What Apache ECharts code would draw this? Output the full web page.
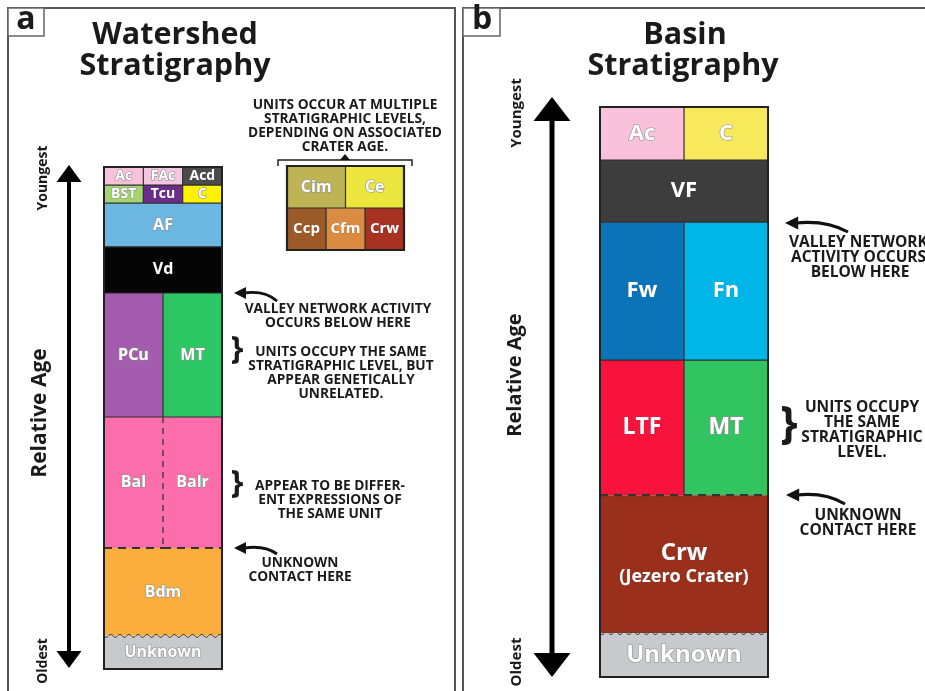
<!DOCTYPE html>
<html><head><meta charset="utf-8">
<script src="https://cdn.jsdelivr.net/npm/echarts@6/dist/echarts.min.js"></script>
<style>html,body{margin:0;padding:0;background:#fff}#c{width:925px;height:691px}</style>
</head><body><div id="c"></div>
<script>
// ---------- DATA ----------
// Relative age scale: 0 = oldest, 100 = youngest. Columns: fractions of the stratigraphic column.
// Panel a: Watershed stratigraphy
const watershedUnits     = ['Ac','FAc','Acd','BST','Tcu','C','AF','Vd','PCu','MT','Bal','Balr','Bdm','Unknown'];
const watershedColStart  = [0, 1, 2, 0, 1, 2, 0, 0, 0,   1.5, 0,   1.5, 0, 0];
const watershedColEnd    = [1, 2, 3, 1, 2, 3, 3, 3, 1.5, 3,   1.5, 3,   3, 3];
const watershedAgeBase   = [96.4,96.4,96.4,92.8,92.8,92.8,84.1,74.9,50.2,50.2,24.1,24.1,6.6,0];
const watershedAgeTop    = [100,100,100,96.4,96.4,96.4,92.8,84.1,74.9,74.9,50.2,50.2,24.1,6.6];
const watershedBaseContact = ['solid','solid','solid','solid','solid','solid','solid','solid','solid','solid','dashed','dashed','wavy','none'];
const watershedSideContact = ['none','solid','solid','none','solid','solid','none','none','none','solid','none','dashed','none','none'];

// Crater units (occur at multiple stratigraphic levels)
const craterUnits    = ['Cim','Ce','Ccp','Cfm','Crw'];
const craterColStart = [0, 3, 0, 2, 4];
const craterColEnd   = [3, 6, 2, 4, 6];
const craterRowBase  = [1, 1, 0, 0, 0];
const craterRowTop   = [2, 2, 1, 1, 1];
const craterBaseContact = ['solid','solid','none','none','none'];
const craterSideContact = ['none','solid','none','solid','solid'];

// Panel b: Basin stratigraphy
const basinUnits     = ['Ac','C','VF','Fw','Fn','LTF','MT','Crw','Unknown'];
const basinLabels    = ['Ac','C','VF','Fw','Fn','LTF','MT','{a|Crw}\n{b|(Jezero Crater)}','Unknown'];
const basinColStart  = [0, 1, 0, 0, 1, 0, 1, 0, 0];
const basinColEnd    = [1, 2, 2, 1, 2, 1, 2, 2, 2];
const basinAgeBase   = [90.7,90.7,79.8,55.6,55.6,31.9,31.9,7.7,0];
const basinAgeTop    = [100,100,90.7,79.8,79.8,55.6,55.6,31.9,7.7];
const basinBaseContact = ['solid','solid','solid','solid','solid','dashed','dashed','wavy','none'];
const basinSideContact = ['none','solid','none','none','solid','none','solid','none','none'];

// ---------- STYLES ----------
const watershedFills = ['#f7c1da','#f3c5df','#4b4b4d','#a4d46f','#6b2d8c','#fff200','#6cb6e2','#050505','#a35cae','#2ec766','#fc6dab','#fc6dab','#fbad3d','#c8c9cc'];
const watershedOutlined = [1,1,0,1,0,1,1,0,1,1,1,1,1,1];
const watershedFontSize = [14,14,14,14,14,14,16,16,16,16,16,16,16,16];
const craterFills = ['#beb455','#ece63f','#9c5a28','#d98c42','#a83222'];
const craterOutlined = [1,1,0,0,0];
const craterFontSize = [16,16,15,15,15];
const basinFills = ['#f9c1da','#f7e85c','#3d3d3d','#0b73b7','#00b6e8','#f7133b','#33c462','#9a301c','#c8c9cc'];
const basinOutlined = [1,1,0,0,0,0,1,0,1];
const basinFontSize = [22,22,22,22,22,23,23,24,24];

const FONT = '"Open Sans", "DejaVu Sans", sans-serif';
const OUTLINE = '#8f8f8f';
const SOFT = 'rgba(90,90,90,0.45)';

function makeRender(cfg) {
  return function (params, api) {
    const i = params.dataIndex;
    const tl = api.coord([api.value(0), api.value(3)]);
    const br = api.coord([api.value(1), api.value(2)]);
    const x = tl[0], y = tl[1], w = br[0] - tl[0], h = br[1] - tl[1];
    const ch = [];
    ch.push({ type: 'rect', shape: { x: x, y: y, width: w, height: h }, style: { fill: cfg.fills[i] }, z2: 0 });
    const bc = cfg.base[i];
    const yb = y + h;
    if (bc === 'solid') {
      ch.push({ type: 'line', shape: { x1: x, y1: yb, x2: x + w, y2: yb }, style: { stroke: '#2d2d2d', lineWidth: 1.2 }, z2: 5 });
    } else if (bc === 'dashed') {
      ch.push({ type: 'line', shape: { x1: x, y1: yb, x2: x + w, y2: yb }, style: { stroke: '#333', lineWidth: 2.2, lineDash: [8, 6] }, z2: 5 });
    } else if (bc === 'wavy') {
      const pts = [];
      const cycles = Math.round(w / 9);
      for (let p = 0; p <= w; p += 1) pts.push([x + p, yb + 1.5 * Math.sin(p / w * Math.PI * 2 * cycles)]);
      ch.push({ type: 'polyline', shape: { points: pts }, style: { stroke: '#444', lineWidth: 1, fill: null }, z2: 5 });
    }
    const sc = cfg.side[i];
    if (sc === 'solid') {
      ch.push({ type: 'line', shape: { x1: x, y1: y, x2: x, y2: yb }, style: { stroke: '#2d2d2d', lineWidth: 1.2 }, z2: 5 });
    } else if (sc === 'dashed') {
      ch.push({ type: 'line', shape: { x1: x, y1: y, x2: x, y2: yb }, style: { stroke: '#444', lineWidth: 1.5, lineDash: [6, 5] }, z2: 5 });
    }
    const outlined = cfg.outlined[i];
    const fs = cfg.fontSize[i];
    const ts = {
      text: cfg.labels[i], x: x + w / 2, y: y + h / 2, align: 'center', verticalAlign: 'middle',
      font: 'bold ' + fs + 'px ' + FONT, fill: '#ffffff',
      stroke: outlined ? OUTLINE : SOFT, lineWidth: outlined ? 1.2 : 0.6
    };
    if (cfg.rich) ts.rich = cfg.rich;
    ch.push({ type: 'text', style: ts, z2: 10 });
    if (i === 0) {
      const cs = params.coordSys;
      ch.push({ type: 'rect', shape: { x: cs.x, y: cs.y, width: cs.width, height: cs.height },
        style: { fill: null, stroke: '#222', lineWidth: cfg.frameWidth }, z2: 20 });
    }
    return { type: 'group', children: ch };
  };
}

function buildData(cs, ce, ab, at, names) {
  return names.map((n, k) => ({ name: n, value: [cs[k], ce[k], ab[k], at[k]] }));
}

// ---------- GRAPHIC HELPERS ----------
const G = [];
function txt(s, x, y, size, opts) {
  opts = opts || {};
  G.push({ type: 'text', x: x, y: y, rotation: opts.rot || 0, silent: true,
    style: { text: s, font: (opts.weight || 'bold') + ' ' + size + 'px ' + FONT, fill: opts.fill || '#1a1a1a',
      align: opts.align || 'center', verticalAlign: 'middle' } });
}
function vArrow(x, yTop, yBot, hw, hh, lw) {
  G.push({ type: 'line', silent: true, shape: { x1: x, y1: yTop + hh - 2, x2: x, y2: yBot - hh + 2 }, style: { stroke: '#000', lineWidth: lw } });
  G.push({ type: 'polygon', silent: true, shape: { points: [[x, yTop], [x - hw / 2, yTop + hh], [x + hw / 2, yTop + hh]] }, style: { fill: '#000' } });
  G.push({ type: 'polygon', silent: true, shape: { points: [[x, yBot], [x - hw / 2, yBot - hh], [x + hw / 2, yBot - hh]] }, style: { fill: '#000' } });
}
function curvedArrow(tipX, tipY, tailX, tailY, s) {
  s = s || 1;
  const bx = tipX + 10 * s;
  G.push({ type: 'bezierCurve', silent: true,
    shape: { x1: tailX, y1: tailY, x2: bx, y2: tipY, cpx1: (tailX + bx) / 2 + 4, cpy1: tipY - 3 },
    style: { stroke: '#111', lineWidth: 2.8 * s, fill: null } });
  G.push({ type: 'polygon', silent: true, shape: { points: [[tipX, tipY], [tipX + 12 * s, tipY - 6 * s], [tipX + 12 * s, tipY + 6 * s]] }, style: { fill: '#111' } });
}

// Panel frames
G.push({ type: 'rect', silent: true, shape: { x: 8, y: 8, width: 447, height: 700 }, style: { fill: null, stroke: '#555', lineWidth: 2 } });
G.push({ type: 'rect', silent: true, shape: { x: 8, y: 8, width: 36, height: 28 }, style: { fill: '#fff', stroke: '#666', lineWidth: 1.5 } });
txt('a', 26, 20, 32);
G.push({ type: 'rect', silent: true, shape: { x: 463, y: 8, width: 480, height: 700 }, style: { fill: null, stroke: '#555', lineWidth: 2 } });
G.push({ type: 'rect', silent: true, shape: { x: 463, y: 8, width: 37, height: 28 }, style: { fill: '#fff', stroke: '#666', lineWidth: 1.5 } });
txt('b', 482, 20, 32);

// Titles
txt('Watershed', 175, 35, 30.5);
txt('Stratigraphy', 175, 66, 30.5);
txt('Basin', 685, 35, 30.5);
txt('Stratigraphy', 683, 66, 30.5);

// Relative age arrows
vArrow(69, 165, 668, 25, 17, 4);
txt('Youngest', 43, 178, 14, { rot: Math.PI / 2 });
txt('Relative Age', 40, 413, 21, { rot: Math.PI / 2 });
txt('Oldest', 43, 661, 14, { rot: Math.PI / 2 });

vArrow(552, 97, 677, 37, 24, 5);
txt('Youngest', 517, 113, 15, { rot: Math.PI / 2 });
txt('Relative Age', 515, 375, 20, { rot: Math.PI / 2 });
txt('Oldest', 517, 662, 15, { rot: Math.PI / 2 });

// Panel a annotations
const annA = 13.7;
txt('UNITS OCCUR AT MULTIPLE', 345, 105, annA);
txt('STRATIGRAPHIC LEVELS,', 345, 119, annA);
txt('DEPENDING ON ASSOCIATED', 345, 133, annA);
txt('CRATER AGE.', 345, 147, annA);
G.push({ type: 'polyline', silent: true, shape: { points: [[278, 166], [278, 160], [412, 160], [412, 166]] }, style: { stroke: '#222', lineWidth: 1.5, fill: null } });
G.push({ type: 'polygon', silent: true, shape: { points: [[345, 154], [340, 160], [350, 160]] }, style: { fill: '#111' } });

curvedArrow(234, 293, 277, 301);
txt('VALLEY NETWORK ACTIVITY', 338, 309, annA);
txt('OCCURS BELOW HERE', 338, 323, annA);

txt('}', 237, 350, 32, { weight: 'bold' });
txt('UNITS OCCUPY THE SAME', 341, 352, annA);
txt('STRATIGRAPHIC LEVEL, BUT', 341, 366, annA);
txt('APPEAR GENETICALLY', 341, 380, annA);
txt('UNRELATED.', 341, 394, annA);

txt('}', 237, 484, 32, { weight: 'bold' });
txt('APPEAR TO BE DIFFER-', 330, 486, annA);
txt('ENT EXPRESSIONS OF', 330, 500, annA);
txt('THE SAME UNIT', 330, 514, annA);

curvedArrow(234, 548, 277, 554);
txt('UNKNOWN', 300, 563, annA);
txt('CONTACT HERE', 300, 577, annA);

// Panel b annotations
const annB = 15.5;
curvedArrow(785, 223, 848, 232, 1.1);
txt('VALLEY NETWORK', 789, 243, annB, { align: 'left' });
txt('ACTIVITY OCCURS', 791, 258, annB, { align: 'left' });
txt('BELOW HERE', 860, 273, annB);

txt('}', 789, 425, 44, { weight: 'bold' });
txt('UNITS OCCUPY', 862, 408, annB);
txt('THE SAME', 862, 423, annB);
txt('STRATIGRAPHIC', 862, 438, annB);
txt('LEVEL.', 862, 453, annB);

curvedArrow(786, 495, 845, 504, 1.1);
txt('UNKNOWN', 858, 516, annB);
txt('CONTACT HERE', 858, 531, annB);

// ---------- CHART ----------
const chart = echarts.init(document.getElementById('c'), null, { renderer: 'canvas' });
const option = {
  animation: false,
  backgroundColor: '#ffffff',
  grid: [
    { left: 104, top: 167, width: 118, height: 502 },
    { left: 287, top: 166, width: 117, height: 84 },
    { left: 600, top: 107, width: 168, height: 570 }
  ],
  xAxis: [
    { gridIndex: 0, type: 'value', min: 0, max: 3, show: false },
    { gridIndex: 1, type: 'value', min: 0, max: 6, show: false },
    { gridIndex: 2, type: 'value', min: 0, max: 2, show: false }
  ],
  yAxis: [
    { gridIndex: 0, type: 'value', min: 0, max: 100, show: false },
    { gridIndex: 1, type: 'value', min: 0, max: 2, show: false },
    { gridIndex: 2, type: 'value', min: 0, max: 100, show: false }
  ],
  series: [
    { type: 'custom', name: 'Watershed', xAxisIndex: 0, yAxisIndex: 0, clip: false, silent: true,
      encode: { x: [0, 1], y: [2, 3] },
      renderItem: makeRender({ fills: watershedFills, base: watershedBaseContact, side: watershedSideContact,
        outlined: watershedOutlined, fontSize: watershedFontSize, labels: watershedUnits, frameWidth: 2 }),
      data: buildData(watershedColStart, watershedColEnd, watershedAgeBase, watershedAgeTop, watershedUnits) },
    { type: 'custom', name: 'Crater units', xAxisIndex: 1, yAxisIndex: 1, clip: false, silent: true,
      encode: { x: [0, 1], y: [2, 3] },
      renderItem: makeRender({ fills: craterFills, base: craterBaseContact, side: craterSideContact,
        outlined: craterOutlined, fontSize: craterFontSize, labels: craterUnits, frameWidth: 2.2 }),
      data: buildData(craterColStart, craterColEnd, craterRowBase, craterRowTop, craterUnits) },
    { type: 'custom', name: 'Basin', xAxisIndex: 2, yAxisIndex: 2, clip: false, silent: true,
      encode: { x: [0, 1], y: [2, 3] },
      renderItem: makeRender({ fills: basinFills, base: basinBaseContact, side: basinSideContact,
        outlined: basinOutlined, fontSize: basinFontSize, labels: basinLabels, frameWidth: 2,
        rich: { a: { font: 'bold 24px ' + FONT, fill: '#fff', stroke: SOFT, lineWidth: 0.6, lineHeight: 26 },
                b: { font: 'bold 18px ' + FONT, fill: '#fff', stroke: SOFT, lineWidth: 0.6, lineHeight: 22 } } }),
      data: buildData(basinColStart, basinColEnd, basinAgeBase, basinAgeTop, basinUnits) }
  ],
  graphic: { elements: G }
};
chart.setOption(option);
</script>
</body></html>
